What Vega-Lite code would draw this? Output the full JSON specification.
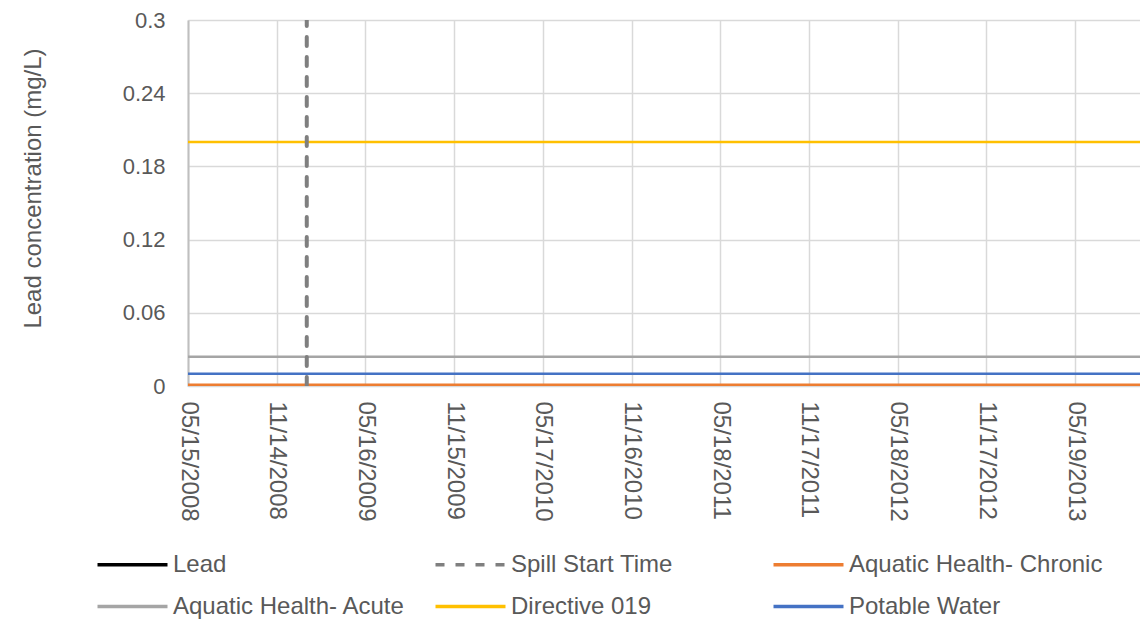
{
  "$schema": "https://vega.github.io/schema/vega-lite/v6.json",
  "width": 952,
  "height": 366,
  "autosize": {"type": "none"},
  "padding": {"left": 188, "top": 20, "right": 0, "bottom": 235},
  "background": "white",
  "config": {
    "font": "Liberation Sans",
    "view": {"stroke": null},
    "axis": {"labelFont": "Liberation Sans", "titleFont": "Liberation Sans", "labelColor": "#595959", "titleColor": "#595959", "labelFontSize": 24, "titleFontSize": 24, "titleFontWeight": "normal", "gridColor": "#d9d9d9", "gridWidth": 1.5, "ticks": false, "domain": false},
    "legend": {"labelFont": "Liberation Sans", "labelFontSize": 24, "labelColor": "#595959", "labelLimit": 400}
  },
  "data": {"values": [
    {"series": "Lead", "date": "2008-05-15", "value": 0},
    {"series": "Lead", "date": "2013-09-30", "value": 0},
    {"series": "Aquatic Health- Chronic", "date": "2008-05-15", "value": 0.001},
    {"series": "Aquatic Health- Chronic", "date": "2013-09-30", "value": 0.001},
    {"series": "Potable Water", "date": "2008-05-15", "value": 0.01},
    {"series": "Potable Water", "date": "2013-09-30", "value": 0.01},
    {"series": "Aquatic Health- Acute", "date": "2008-05-15", "value": 0.024},
    {"series": "Aquatic Health- Acute", "date": "2013-09-30", "value": 0.024},
    {"series": "Directive 019", "date": "2008-05-15", "value": 0.2},
    {"series": "Directive 019", "date": "2013-09-30", "value": 0.2},
    {"series": "Spill Start Time", "date": "2009-01-15", "value": 0},
    {"series": "Spill Start Time", "date": "2009-01-15", "value": 0.3}
  ]},
  "mark": {"type": "line", "clip": true, "strokeCap": "round"},
  "encoding": {
    "x": {
      "field": "date", "type": "temporal", "title": null,
      "scale": {"type": "utc", "domain": [{"year": 2008, "month": 5, "date": 15, "utc": true}, {"year": 2013, "month": 9, "date": 30, "utc": true}]},
      "axis": {
        "format": "%m/%d/%Y", "labelAngle": 90, "labelPadding": 15, "grid": true,
        "values": [
          {"year": 2008, "month": 5, "date": 15, "utc": true},
          {"year": 2008, "month": 11, "date": 14, "utc": true},
          {"year": 2009, "month": 5, "date": 16, "utc": true},
          {"year": 2009, "month": 11, "date": 15, "utc": true},
          {"year": 2010, "month": 5, "date": 17, "utc": true},
          {"year": 2010, "month": 11, "date": 16, "utc": true},
          {"year": 2011, "month": 5, "date": 18, "utc": true},
          {"year": 2011, "month": 11, "date": 17, "utc": true},
          {"year": 2012, "month": 5, "date": 18, "utc": true},
          {"year": 2012, "month": 11, "date": 17, "utc": true},
          {"year": 2013, "month": 5, "date": 19, "utc": true}
        ]
      }
    },
    "y": {
      "field": "value", "type": "quantitative", "title": "Lead concentration (mg/L)",
      "scale": {"domain": [0, 0.3], "nice": false},
      "axis": {"values": [0, 0.06, 0.12, 0.18, 0.24, 0.3], "format": "~g", "labelFontSize": 22, "labelPadding": 23, "titlePadding": 77, "titleY": 168, "grid": true, "domain": true, "domainColor": "#bfbfbf", "domainWidth": 2}
    },
    "color": {
      "field": "series", "type": "nominal", "title": null,
      "scale": {
        "domain": ["Lead", "Spill Start Time", "Aquatic Health- Chronic", "Aquatic Health- Acute", "Directive 019", "Potable Water"],
        "range": ["#000000", "#7f7f7f", "#ED7D31", "#A5A5A5", "#FFC000", "#4472C4"]
      },
      "legend": {
        "orient": "none", "legendX": -75, "legendY": 525, "columns": 3, "direction": "horizontal",
        "gridAlign": "all", "columnPadding": 1, "rowPadding": 10, "padding": 0,
        "symbolType": "M-2,0H2", "symbolSize": 1225, "symbolStrokeWidth": 3.5, "labelOffset": 21
      }
    },
    "strokeDash": {
      "field": "series", "type": "nominal", "title": null,
      "scale": {
        "domain": ["Lead", "Spill Start Time", "Aquatic Health- Chronic", "Aquatic Health- Acute", "Directive 019", "Potable Water"],
        "range": [[1, 0], [9, 11], [1, 0], [1, 0], [1, 0], [1, 0]]
      },
      "legend": null
    },
    "strokeWidth": {"condition": {"test": "datum.series === 'Spill Start Time'", "value": 4}, "value": 2.5},
    "order": {"field": "value", "type": "quantitative"}
  }
}
